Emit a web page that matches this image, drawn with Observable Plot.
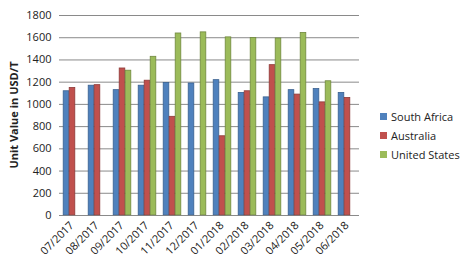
<!DOCTYPE html>
<html>
<head>
<meta charset="utf-8">
<script src="https://cdn.jsdelivr.net/npm/d3@7"></script>
<script src="https://cdn.jsdelivr.net/npm/@observablehq/plot@0.6"></script>
<style>
  body { margin: 0; background: #fff; }
  #wrap { position: relative; width: 460px; height: 266px; font-family: "Open Sans", sans-serif; }
  #legend { position: absolute; left: 380px; top: 107px; font-size: 11px; color: #222; }
  #legend div { height: 19px; display: flex; align-items: center; }
  #legend span.sw { display: inline-block; width: 7px; height: 7px; margin-right: 4px; }
</style>
</head>
<body>
<div id="wrap"><div id="legend"></div></div>
<script>
const months = ["07/2017","08/2017","09/2017","10/2017","11/2017","12/2017","01/2018","02/2018","03/2018","04/2018","05/2018","06/2018"];
const seriesNames = ["South Africa","Australia","United States"];
const southAfrica = [1120,1170,1130,1170,1195,1190,1220,1105,1065,1130,1140,1105];
const australia   = [1150,1175,1325,1215,890,0,715,1120,1355,1090,1020,1060];
const unitedStates= [0,0,1305,1430,1640,1650,1605,1600,1595,1645,1210,0];
const yTicks = [0,200,400,600,800,1000,1200,1400,1600,1800];
const colors = ["#4F81BD","#C0504D","#9BBB59"];
const strokes = ["#3A6190","#8E3B39","#71893F"];

const valuesBySeries = [southAfrica, australia, unitedStates];
const data = months.flatMap((m, i) => seriesNames.map((s, k) => ({month: m, series: s, value: valuesBySeries[k][i]})));

const chart = Plot.plot({
  width: 460, height: 266,
  marginLeft: 58, marginRight: 100, marginTop: 15, marginBottom: 51,
  style: {fontFamily: "Open Sans, sans-serif", fontSize: "11px", color: "#222"},
  fx: {domain: months, padding: 0, label: null, tickRotate: -45, tickSize: 0, tickPadding: 8},
  x: {domain: seriesNames, axis: null, paddingInner: 0, paddingOuter: 0.45},
  y: {domain: [0, 1800], ticks: yTicks, label: null, tickSize: 0, tickPadding: 8, tickFormat: d => String(d)},
  color: {domain: seriesNames, range: colors},
  marks: [
    Plot.gridY(yTicks, {stroke: "#8a8a8a", strokeOpacity: 1, strokeWidth: 1}),
    Plot.barY(data, {fx: "month", x: "series", y: "value", fill: "series",
      stroke: d => strokes[seriesNames.indexOf(d.series)], strokeWidth: 0.8, inset: 0.2})
  ]
});

// legend
const legend = document.getElementById("legend");
seriesNames.forEach((s, k) => {
  const row = document.createElement("div");
  row.innerHTML = `<span class="sw" style="background:${colors[k]}"></span>${s}`;
  legend.appendChild(row);
});
const wrap = document.getElementById("wrap");
wrap.insertBefore(chart, legend);

// y-axis title
const title = document.createElement("div");
title.textContent = "Unit Value in USD/T";
Object.assign(title.style, {position: "absolute", left: "13px", top: "115px", transform: "translate(-50%,-50%) rotate(-90deg)",
  whiteSpace: "nowrap", fontWeight: "bold", fontSize: "11px", color: "#222"});
wrap.appendChild(title);
</script>
</body>
</html>
